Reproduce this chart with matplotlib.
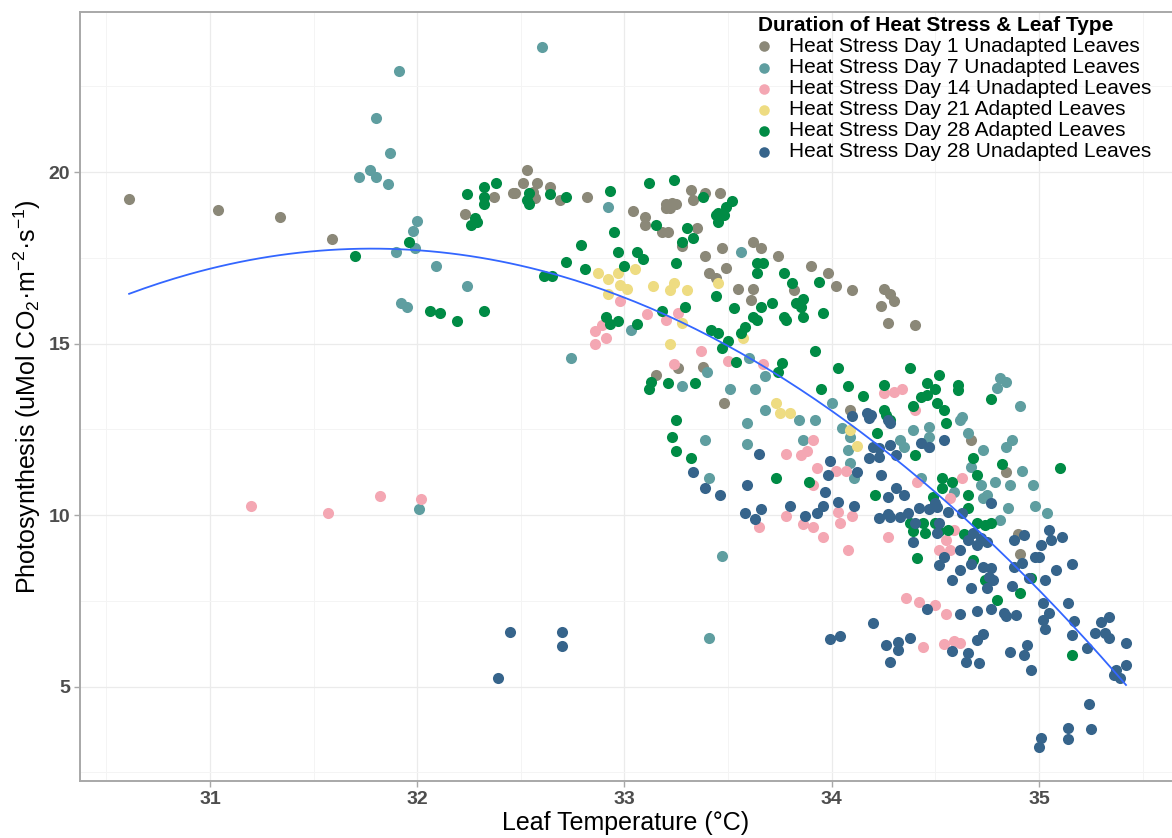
import numpy as np
import matplotlib
matplotlib.use("Agg")
import matplotlib.pyplot as plt
from matplotlib.ticker import MultipleLocator

plt.rcParams['font.family'] = ['Liberation Sans', 'DejaVu Sans']
plt.rcParams['mathtext.fontset'] = 'custom'
plt.rcParams['mathtext.rm'] = 'Liberation Sans'
plt.rcParams['mathtext.it'] = 'Liberation Sans:italic'
plt.rcParams['mathtext.bf'] = 'Liberation Sans:bold'

# ---- data (leaf temperature, photosynthesis) ----
day1_temp = [30.61, 31.04, 31.34, 31.59, 32.53, 32.51, 32.47, 32.46, 32.56, 32.58, 32.64, 32.69,
             32.57, 32.37, 32.23, 32.82, 33.04, 33.10, 33.10, 33.20, 33.23, 33.25, 33.20, 33.22,
             33.32, 33.33, 33.39, 33.46, 33.18, 33.21, 33.28, 33.35, 33.47, 33.39, 33.49, 33.41,
             33.44, 33.62, 33.66, 33.74, 33.55, 33.62, 33.61, 33.82, 33.90, 33.98, 34.02, 34.10,
             33.15, 33.26, 33.38, 33.48, 34.09, 34.67, 34.84, 34.90, 34.91,
             34.25, 34.28, 34.30, 34.24, 34.27, 34.40]
day1_phot = [19.20, 18.90, 18.70, 18.05, 20.06, 19.67, 19.38, 19.38, 19.43, 19.67, 19.57, 19.18,
             19.23, 19.26, 18.77, 19.26, 18.86, 18.70, 18.45, 19.07, 19.09, 19.07, 18.94, 18.94,
             19.48, 19.18, 19.38, 19.38, 18.26, 18.26, 17.84, 18.36, 17.78, 17.55, 17.19, 17.06,
             16.90, 17.97, 17.78, 17.55, 16.58, 16.58, 16.27, 16.56, 17.26, 17.07, 16.68, 16.56,
             14.08, 14.28, 14.31, 13.27, 13.06, 12.19, 11.26, 9.44, 8.85,
             16.60, 16.45, 16.25, 16.10, 15.60, 15.55]

day7_temp = [32.60, 31.91, 31.80, 31.87, 31.77, 31.72, 31.80, 31.86, 32.00, 31.98, 31.99, 31.90,
             32.09, 32.24, 31.92, 31.95, 32.74, 32.01, 32.92, 33.56, 33.03, 33.60,
             33.40, 33.28, 33.51, 33.63, 33.68, 33.68, 33.59, 33.59, 33.39, 33.41, 33.84, 33.92,
             33.86, 34.00, 34.05, 34.09, 34.08, 34.11, 34.09, 33.47, 33.41,
             34.81, 34.84, 34.80, 34.91, 34.63, 34.62, 34.39, 34.47, 34.47, 34.44, 34.47, 34.33,
             34.35, 34.66, 34.87, 34.84, 34.73, 34.67, 34.79, 34.86, 34.92, 34.97, 34.72, 34.75,
             34.73, 34.85, 34.98, 35.04, 34.81, 34.59, 34.43]
day7_phot = [23.65, 22.95, 21.57, 20.56, 20.06, 19.86, 19.86, 19.66, 18.56, 18.27, 17.78, 17.67,
             17.27, 16.67, 16.17, 16.07, 14.57, 10.17, 18.97, 17.68, 15.39, 14.57,
             14.18, 13.76, 13.66, 13.66, 14.05, 13.06, 12.67, 12.07, 12.19, 11.07, 12.77, 12.77,
             12.19, 13.27, 12.53, 12.28, 11.90, 11.07, 11.51, 8.80, 6.42,
             13.98, 13.89, 13.69, 13.18, 12.87, 12.77, 12.48, 12.58, 12.28, 12.09, 11.99, 12.19,
             11.99, 12.38, 12.19, 11.97, 11.90, 11.39, 10.97, 10.87, 11.28, 10.87, 10.87, 10.58,
             10.49, 10.20, 10.26, 10.07, 9.85, 10.68, 11.07]

day14_temp = [32.86, 32.86, 31.20, 31.57, 31.82, 32.02, 32.98, 32.89, 32.91, 33.11, 33.20, 33.26,
              33.37, 33.24, 33.50, 33.67, 33.91, 33.88, 33.85, 33.78, 33.93, 34.02, 34.07, 33.91,
              33.78, 33.65, 33.86, 33.91, 33.96, 34.03, 34.04, 34.10, 34.08,
              34.25, 34.30, 34.34, 34.40, 34.63, 34.41, 34.57, 34.59, 34.55, 34.52, 34.57, 34.27,
              34.36, 34.42, 34.50, 34.55, 34.54, 34.59, 34.62, 34.44]
day14_phot = [15.37, 14.98, 10.27, 10.07, 10.56, 10.48, 16.24, 15.54, 15.17, 15.85, 15.69, 15.88,
              14.78, 14.39, 14.49, 14.39, 12.19, 11.87, 11.75, 11.78, 11.38, 11.28, 11.28, 10.87,
              9.97, 9.66, 9.74, 9.66, 9.35, 10.10, 9.76, 9.97, 8.98,
              13.55, 13.59, 13.66, 13.06, 11.07, 10.97, 10.49, 9.56, 9.27, 8.98, 8.98, 9.37,
              7.57, 7.47, 7.38, 7.11, 6.24, 6.33, 6.26, 6.16]

day21_temp = [32.87, 32.92, 32.97, 33.05, 32.98, 33.01, 32.92, 33.14, 33.24, 33.22, 33.30, 33.45,
              33.28, 33.22, 33.57, 33.73, 33.75, 33.80, 34.09, 34.12]
day21_phot = [17.07, 16.87, 17.06, 17.16, 16.71, 16.58, 16.44, 16.68, 16.76, 16.56, 16.56, 16.76,
              15.59, 14.98, 15.15, 13.27, 12.96, 12.96, 12.48, 12.01]

day28a_temp = [31.96, 31.70, 32.06, 32.11, 32.19, 32.32, 32.24, 32.32, 32.32, 32.32, 32.38, 32.28,
               32.26, 32.29, 32.54, 32.53, 32.54, 32.64, 32.72, 32.79, 32.72, 32.81, 32.61, 32.65,
               32.93, 33.12, 33.24, 33.38, 33.52, 33.49, 33.45, 33.44, 33.45, 33.48, 32.95, 33.15,
               33.30, 33.33, 33.28, 32.97, 33.06, 33.09, 33.00, 33.25, 33.44, 33.29, 33.53, 32.91,
               32.93, 32.97, 33.06, 33.18, 33.42, 33.45, 33.50, 33.47, 33.56, 33.58, 33.54, 33.62,
               33.64, 33.66, 33.71, 33.64, 33.67, 33.64, 33.77, 33.81, 33.83, 33.86, 33.85, 33.86,
               33.78, 33.77, 33.94, 33.96, 33.92, 33.76,
               33.74, 34.03, 33.13, 33.12, 33.21, 33.34, 33.95, 34.08, 33.25, 33.23, 33.25, 33.32,
               33.73, 33.89,
               34.38, 34.25, 34.15, 34.52, 34.46, 34.50, 34.43, 34.46, 34.39, 34.61, 34.61, 34.25,
               34.28, 34.26, 34.51, 34.54, 34.55, 34.77, 34.22, 34.40, 34.68, 34.70, 34.82, 35.10,
               34.53, 34.58, 34.53, 34.21, 34.49, 34.66, 34.66, 34.64, 34.70, 34.74, 34.77, 34.38,
               34.44, 34.50, 34.39, 34.45, 34.52, 34.56, 34.41, 34.68, 34.74, 34.91, 34.80, 34.96,
               35.16]
day28a_phot = [17.97, 17.56, 15.96, 15.88, 15.66, 15.96, 19.37, 19.56, 19.26, 19.07, 19.67, 18.65,
               18.45, 18.55, 19.38, 19.18, 19.07, 19.37, 19.26, 17.86, 17.37, 17.17, 16.97, 16.97,
               19.46, 19.67, 19.77, 19.28, 19.16, 18.97, 18.80, 18.75, 18.55, 18.75, 18.26, 18.45,
               18.38, 18.07, 17.97, 17.68, 17.68, 17.45, 17.26, 17.36, 16.38, 16.07, 16.04, 15.78,
               15.56, 15.66, 15.56, 15.95, 15.39, 15.30, 15.08, 14.86, 15.30, 15.49, 14.47, 15.78,
               15.69, 16.07, 16.17, 17.36, 17.36, 17.07, 17.07, 16.75, 16.19, 16.29, 16.07, 15.76,
               15.69, 15.78, 16.78, 15.88, 14.78, 14.42,
               14.18, 14.28, 13.89, 13.66, 13.86, 13.86, 13.66, 13.76, 12.77, 12.27, 11.87, 11.67,
               11.07, 10.97,
               14.28, 13.79, 13.47, 14.08, 13.86, 13.66, 13.45, 13.50, 13.18, 13.79, 13.64, 13.06,
               12.77, 12.92, 13.27, 13.06, 12.67, 13.37, 12.38, 11.75, 11.67, 11.17, 11.48, 11.38,
               11.07, 10.97, 10.78, 10.58, 10.53, 10.58, 10.20, 9.44, 9.76, 9.71, 9.76, 9.76,
               9.76, 9.78, 9.52, 9.47, 9.52, 9.56, 8.76, 8.69, 8.10, 7.72, 7.52, 8.15,
               5.92]

day28u_temp = [33.65, 33.33, 33.39, 33.46, 33.59, 33.58, 33.63, 33.66, 33.80, 33.87, 33.93, 33.96,
               33.97, 33.99, 33.98, 34.03, 34.10, 34.11, 34.12, 33.99, 34.04, 32.70, 32.70, 32.45,
               32.39,
               34.27, 34.28, 34.17, 34.19, 34.18, 34.54, 34.43, 34.47, 34.28, 34.31, 34.23, 34.18,
               34.20, 34.23, 34.24, 34.31, 34.35, 34.27, 34.23, 34.28, 34.33, 34.27, 34.37, 34.42,
               34.40, 34.47, 34.50, 34.51, 34.56, 34.63, 34.77, 34.39, 34.52, 34.51, 34.62, 34.66,
               34.68, 34.72, 34.75, 34.70, 34.52, 34.54, 34.62, 34.67, 34.73, 34.77, 34.76, 34.78,
               34.58, 34.67, 34.75, 34.88, 34.93, 34.88, 34.92, 34.95, 34.87, 34.98, 35.00, 35.01,
               35.05, 35.06, 35.11, 35.03, 35.08, 35.16, 35.14, 35.02,
               34.46, 34.62, 34.70, 34.77, 34.83, 34.89, 34.84, 34.20, 34.26, 34.32, 34.32, 34.38,
               34.28, 34.58, 34.66, 34.65, 34.71, 34.70, 34.73, 35.05, 35.02, 35.03, 35.17, 35.16,
               35.23, 35.27, 35.30, 35.34, 35.32, 35.34, 35.42, 35.37, 35.42, 35.39, 35.36, 34.86,
               34.94, 34.93, 34.96, 35.24, 35.14, 35.14, 35.25, 35.01, 35.00]
day28u_phot = [11.77, 11.26, 10.78, 10.58, 10.87, 10.07, 9.87, 10.17, 10.27, 9.97, 10.07, 10.27,
               10.68, 11.57, 11.17, 10.37, 12.89, 10.27, 11.26, 6.39, 6.47, 6.60, 6.19, 6.59,
               5.25,
               12.77, 12.67, 12.96, 12.92, 12.82, 12.19, 12.09, 11.97, 12.04, 11.75, 11.70, 11.65,
               11.99, 11.94, 11.17, 10.78, 10.58, 10.53, 9.90, 9.95, 9.95, 10.03, 10.05, 10.20,
               9.76, 10.17, 10.36, 10.24, 10.10, 10.05, 10.36, 9.22, 9.76, 9.47, 8.98, 9.27,
               9.47, 9.32, 9.22, 9.13, 8.54, 8.78, 8.40, 8.57, 8.49, 8.45, 8.20, 8.10,
               8.10, 7.86, 7.86, 9.27, 9.42, 8.49, 8.59, 8.15, 7.93, 8.78, 8.78, 9.12,
               9.56, 9.27, 9.37, 8.10, 8.40, 8.56, 7.42, 7.42,
               7.25, 7.10, 7.20, 7.25, 7.15, 7.08, 7.05, 6.86, 6.21, 6.31, 6.06, 6.40,
               5.72, 6.03, 5.99, 5.72, 5.69, 6.36, 6.53, 7.13, 6.94, 6.67, 6.91, 6.50,
               6.11, 6.55, 6.89, 7.04, 6.55, 6.41, 6.26, 5.48, 5.63, 5.24, 5.34, 6.02,
               6.21, 5.92, 5.48, 4.48, 3.78, 3.46, 3.76, 3.49, 3.23]

labels = ["Heat Stress Day 1 Unadapted Leaves",
          "Heat Stress Day 7 Unadapted Leaves",
          "Heat Stress Day 14 Unadapted Leaves",
          "Heat Stress Day 21 Adapted Leaves",
          "Heat Stress Day 28 Adapted Leaves",
          "Heat Stress Day 28 Unadapted Leaves"]
colors = ["#8B8878", "#5F9EA0", "#F4A7B3", "#EEDC82", "#008B45", "#36648B"]

series = [(day1_temp, day1_phot), (day7_temp, day7_phot), (day14_temp, day14_phot),
          (day21_temp, day21_phot), (day28a_temp, day28a_phot), (day28u_temp, day28u_phot)]

fig = plt.figure(figsize=(11.72, 8.38), dpi=100)
ax = fig.add_axes([80 / 1172, 57 / 838, 1092 / 1172, 769 / 838])

for (t, p), lab, col in zip(series, labels, colors):
    ax.scatter(t, p, s=64, color=col, linewidths=0, label=lab, zorder=3)

# quadratic fit over all points (geom_smooth style, no band)
all_t = np.concatenate([np.asarray(t) for t, _ in series])
all_p = np.concatenate([np.asarray(p) for _, p in series])
coef = np.polyfit(all_t, all_p, 2)
xs = np.linspace(all_t.min(), all_t.max(), 200)
ax.plot(xs, np.polyval(coef, xs), color="#3366FF", lw=1.3, zorder=4)

ax.set_xlim(30.373, 35.642)
ax.set_ylim(2.245, 24.665)
ax.xaxis.set_major_locator(MultipleLocator(1))
ax.xaxis.set_minor_locator(MultipleLocator(0.5))
ax.yaxis.set_major_locator(MultipleLocator(5))
ax.yaxis.set_minor_locator(MultipleLocator(2.5))
ax.grid(which="major", color="#EBEBEB", lw=0.9, zorder=0)
ax.grid(which="minor", color="#F4F4F4", lw=0.7, zorder=0)
ax.set_axisbelow(True)

for side in ["left", "bottom", "top"]:
    ax.spines[side].set_color("#A8A8A8")
    ax.spines[side].set_linewidth(1.4)
ax.spines["right"].set_visible(False)

ax.tick_params(which="major", length=4, width=1, color="#A8A8A8",
               labelsize=14, labelcolor="#4D4D4D", pad=3)
ax.tick_params(which="minor", length=0)
for lbl in ax.get_xticklabels() + ax.get_yticklabels():
    lbl.set_fontweight("bold")

ax.set_xlabel("Leaf Temperature (°C)", fontsize=18, labelpad=2)
ax.set_ylabel("Photosynthesis (uMol CO$_2$·m$^{-2}$·s$^{-1}$)", fontsize=18, labelpad=4)

leg = ax.legend(loc="upper left", bbox_to_anchor=(0.621, 0.995), frameon=False,
                title="Duration of Heat Stress & Leaf Type",
                title_fontproperties={"weight": "bold", "size": 15},
                fontsize=15, markerscale=0.95, borderpad=0, labelspacing=0.1,
                handlelength=0.6, handletextpad=0.9, borderaxespad=0,
                alignment="left")

fig.savefig("out.png", dpi=100)
